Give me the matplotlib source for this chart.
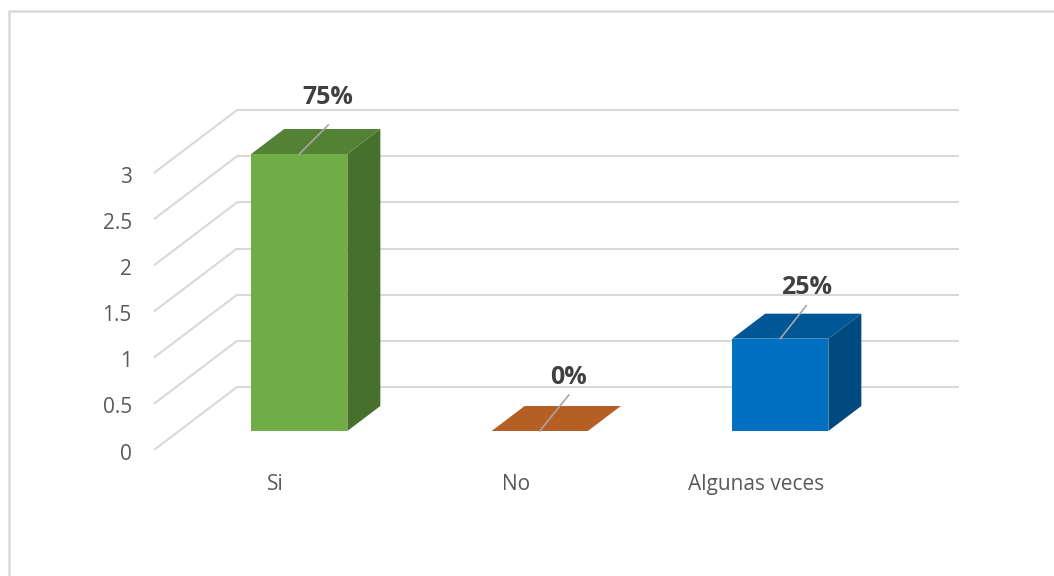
import matplotlib
matplotlib.use('Agg')
import matplotlib.pyplot as plt
from matplotlib.patches import Polygon, Rectangle
from matplotlib.transforms import ScaledTranslation

categories = ['Si', 'No', 'Algunas veces']
values = [3, 0, 1]
pct_labels = ['75%', '0%', '25%']
yticks = [0, 0.5, 1, 1.5, 2, 2.5, 3]
ytick_labels = ['0', '0.5', '1', '1.5', '2', '2.5', '3']

front_colors = ['#70AD47', '#B55F25', '#0070C0']
top_colors = ['#548235', '#B55F25', '#005796']
side_colors = ['#47702C', '#B55F25', '#004A80']

plt.rcParams['font.family'] = ['Open Sans', 'DejaVu Sans']

fig = plt.figure(figsize=(10.54, 5.76), dpi=100)
ax = fig.add_axes([0, 0, 1, 1])
# 240.5 px por categoria, 92.33 px por unidad, origen en (299.25, 431)
ax.set_xlim(-299.25 / 240.5, (1054 - 299.25) / 240.5)
ax.set_ylim(-(576 - 431) / 92.33, 431 / 92.33)
ax.axis('off')


def depth(d):
    # desplazamiento oblicuo, d en pixeles verticales
    return ax.transData + ScaledTranslation(d * 1.32 / 100, d / 100, fig.dpi_scale_trans)


# marco: sin borde derecho ni inferior dentro de la imagen
fig.add_artist(Rectangle((9 / 1054, -0.1), 1.2, 1.1 - 11 / 576,
                         transform=fig.transFigure, fill=False, ec='#d9d9d9', lw=1.8))

# paredes
grid = dict(color='#d9d9d9', lw=1.5, solid_capstyle='butt', zorder=1)
for v in yticks:
    ax.plot([-0.5, 2.5], [v, v], transform=depth(44), **grid)
    x0, y0 = depth(-19).transform((-0.5, v))
    x1, y1 = depth(44).transform((-0.5, v))
    ax.plot([x0, x1], [y0, y1], transform=None, **grid)

for v, lab in zip(yticks, ytick_labels):
    ax.text(-0.5, v, lab, transform=depth(-19) + ScaledTranslation(-22 / 100, -4 / 100, fig.dpi_scale_trans),
            ha='right', va='center', fontsize=15, color='#595959')

# barras
bw = 0.4
D = 25
lead_dx = [29, 29, 26]
lead_dy = [29, 36, 33]
label_gap = [28, 17, 18]
for i, v in enumerate(values):
    l, r = i - bw / 2, i + bw / 2
    pts = ax.transData.transform([(l, v), (r, v), (r, 0)])
    b = depth(D).transform([(l, v), (r, v), (r, 0)])
    top = [pts[0], pts[1], b[1], b[0]]
    side = [pts[1], pts[2], b[2], b[1]]
    ax.add_patch(Polygon(side, closed=True, transform=None, fc=side_colors[i], ec='none', zorder=3))
    ax.add_patch(Polygon(top, closed=True, transform=None, fc=top_colors[i], ec='none', zorder=3))
    ax.add_patch(Rectangle((l, 0), bw, v, fc=front_colors[i], ec='none', zorder=4))

    # linea guia y etiqueta
    p0 = ax.transData.transform((i, v))
    ax.plot([p0[0], p0[0] + lead_dx[i]], [p0[1], p0[1] + lead_dy[i]], transform=None,
            color='#a6a6a6', lw=1.2, zorder=5)
    ax.text(p0[0] + lead_dx[i], p0[1] + lead_dy[i] + label_gap[i], pct_labels[i], transform=None,
            ha='center', va='center', fontsize=18, fontweight='bold', color='#404040', zorder=6)

for i, c in enumerate(categories):
    ax.text(i - 0.099, -0.575, c, ha='center', va='center', fontsize=15, color='#595959')

fig.savefig('out.png', dpi=100, facecolor='white')
